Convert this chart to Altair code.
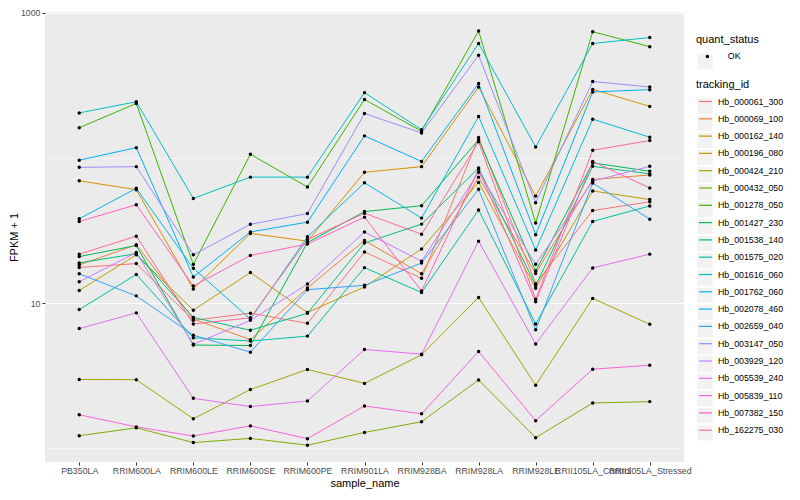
import altair as alt
import pandas as pd

samples = ["PB350LA", "RRIM600LA", "RRIM600LE", "RRIM600SE", "RRIM600PE", "RRIM901LA",
           "RRIM928BA", "RRIM928LA", "RRIM928LE", "RRII105LA_Control", "RRII105LA_Stressed"]

genes = ["Hb_000061_300", "Hb_000069_100", "Hb_000162_140", "Hb_000196_080", "Hb_000424_210",
         "Hb_000432_050", "Hb_001278_050", "Hb_001427_230", "Hb_001538_140", "Hb_001575_020",
         "Hb_001616_060", "Hb_001762_060", "Hb_002078_460", "Hb_002659_040", "Hb_003147_050",
         "Hb_003929_120", "Hb_005539_240", "Hb_005839_110", "Hb_007382_150", "Hb_162275_030"]

colors = ["#F8766D", "#EA8331", "#D89000", "#C09B00", "#A3A500", "#7CAE00", "#39B600", "#00BB4E",
          "#00BF7D", "#00C1A3", "#00BFC4", "#00BAE0", "#00B0F6", "#35A2FF", "#9590FF", "#C77CFF",
          "#E76BF3", "#FA62DB", "#FF62BC", "#FF6C91"]

Hb_000061_300 = [17.6, 18.7, 7.59, 8.51, 7.24, 22.5, 14.8, 138.4, 13.6, 43.4, 49.9]
Hb_000069_100 = [18.3, 25.2, 7.75, 5.59, 12.7, 27.0, 15.9, 73.8, 16.0, 71.1, 76.4]
Hb_000162_140 = [69.6, 60.5, 12.5, 30.2, 26.7, 79.7, 87.2, 308.8, 54.6, 297.3, 227.0]
Hb_000196_080 = [12.2, 21.5, 8.92, 16.23, 8.6, 12.9, 23.6, 67.9, 12.64, 59.3, 51.7]
Hb_000424_210 = [2.97, 2.96, 1.59, 2.53, 3.48, 2.79, 4.39, 10.93, 2.71, 10.76, 7.13]
Hb_000432_050 = [1.215, 1.377, 1.090, 1.165, 1.045, 1.280, 1.519, 2.946, 1.178, 2.044, 2.089]
Hb_001278_050 = [161.7, 237.8, 18.47, 106.1, 63.1, 253.2, 152.9, 751.4, 35.6, 743.3, 585.5]
Hb_001427_230 = [20.9, 24.9, 5.13, 5.09, 26.1, 42.7, 46.9, 133.5, 16.6, 92.5, 81.0]
Hb_001538_140 = [18.9, 21.9, 7.95, 6.49, 8.49, 25.9, 35.0, 85.3, 13.2, 87.6, 77.7]
Hb_001575_020 = [9.01, 15.73, 5.76, 5.47, 5.91, 17.54, 11.82, 43.85, 7.17, 36.53, 46.7]
Hb_001616_060 = [204.5, 244.2, 52.6, 73.8, 73.8, 282.4, 156.8, 616.4, 119.1, 616.4, 676.9]
Hb_001762_060 = [38.1, 61.8, 17.35, 7.75, 28.6, 67.5, 38.5, 193.2, 23.2, 185.3, 139.2]
Hb_002078_460 = [96.6, 117.8, 15.1, 30.9, 36.1, 142.1, 94.7, 326.5, 29.6, 285.5, 296.0]
Hb_002659_040 = [15.9, 11.2, 6.0, 4.58, 12.35, 13.24, 18.87, 60.85, 6.53, 67.17, 37.86]
Hb_003147_050 = [86.2, 87.2, 21.5, 34.9, 41.4, 202.6, 148.9, 511.0, 49.2, 337.0, 308.8]
Hb_003929_120 = [14.0, 22.3, 5.19, 7.59, 13.5, 30.9, 19.4, 79.7, 18.5, 69.3, 87.6]
Hb_005539_240 = [6.66, 8.55, 2.20, 1.93, 2.11, 4.78, 4.44, 26.7, 5.22, 17.46, 21.73]
Hb_005839_110 = [1.695, 1.399, 1.210, 1.421, 1.160, 1.951, 1.721, 4.632, 1.543, 3.497, 3.722]
Hb_007382_150 = [36.5, 47.6, 13.1, 21.3, 25.5, 39.1, 12.1, 83.6, 10.2, 94.7, 62.1]
Hb_162275_030 = [21.7, 28.9, 7.17, 7.91, 27.4, 41.6, 29.8, 129.4, 10.6, 113.0, 132.0]

series = [Hb_000061_300, Hb_000069_100, Hb_000162_140, Hb_000196_080, Hb_000424_210,
          Hb_000432_050, Hb_001278_050, Hb_001427_230, Hb_001538_140, Hb_001575_020,
          Hb_001616_060, Hb_001762_060, Hb_002078_460, Hb_002659_040, Hb_003147_050,
          Hb_003929_120, Hb_005539_240, Hb_005839_110, Hb_007382_150, Hb_162275_030]

status_levels = ["OK"]

rows = []
for g, vals in zip(genes, series):
    for s, v in zip(samples, vals):
        rows.append({"tracking_id": g, "tracking_key": g, "sample_name": s, "fpkm": v,
                     "quant_status": "OK", "quant_key": "OK"})
df = pd.DataFrame(rows)

FONT = "Liberation Sans"
major = "datum.value == 10 || datum.value == 1000"

x = alt.X("sample_name:N", sort=samples, title="sample_name",
          scale=alt.Scale(padding=0.6),
          axis=alt.Axis(labelAngle=0, labelOverlap=False, labelLimit=300, labelPadding=1.5,
                        titlePadding=2, gridWidth=1.07))
y = alt.Y("fpkm:Q", title="FPKM + 1",
          scale=alt.Scale(type="log", domain=[0.8007, 1016.0], nice=False),
          axis=alt.Axis(values=[1, 10, 100, 1000],
                        labelExpr="datum.value == 1000 ? '1000' : (datum.value == 10 ? '10' : '')",
                        gridWidth={"condition": {"test": major, "value": 1.07}, "value": 0.53},
                        tickOpacity={"condition": {"test": major, "value": 1}, "value": 0},
                        labelPadding=2, titlePadding=0.5))

# grey key boxes behind the legend entries (legend-only layers, no marks drawn)
key_boxes = alt.Chart(df).transform_filter("false").mark_square(
    size=234, color="#F2F2F2", filled=True, opacity=1
).encode(
    x=x, y=y,
    opacity=alt.Opacity("tracking_key:O",
                        scale=alt.Scale(type="point", domain=genes, range=[1, 1]),
                        legend=alt.Legend(orient="none", legendX=652, legendY=86, title="",
                                          labelExpr="''", labelOpacity=0, symbolType="square",
                                          symbolSize=234, symbolFillColor="#F2F2F2",
                                          symbolStrokeWidth=0, rowPadding=1.2,
                                          padding=0, zindex=0)),
)

ok_box = alt.Chart(df).transform_filter("false").mark_square(
    color="#F2F2F2", filled=True, opacity=1
).encode(
    x=x, y=y,
    size=alt.Size("quant_key:O",
                  scale=alt.Scale(type="point", domain=status_levels, range=[234, 234]),
                  legend=alt.Legend(orient="none", legendX=652, legendY=41.5, title="",
                                    labelExpr="''", labelOpacity=0, symbolType="square",
                                    symbolFillColor="#F2F2F2", symbolStrokeWidth=0,
                                    padding=0, zindex=0)),
)

lines = alt.Chart(df).mark_line(strokeWidth=1).encode(
    x=x, y=y,
    color=alt.Color("tracking_id:N", title="tracking_id",
                    scale=alt.Scale(domain=genes, range=colors),
                    legend=alt.Legend(orient="none", legendX=651, legendY=67,
                                      symbolType="stroke", symbolSize=169, symbolStrokeWidth=1.2,
                                      symbolOffset=2, labelOffset=5, rowPadding=4.3,
                                      titlePadding=4, padding=0, zindex=1)),
    detail="tracking_id:N",
)

points = alt.Chart(df).mark_point(filled=True, size=12, color="black", opacity=1).encode(
    x=x, y=y,
    shape=alt.Shape("quant_status:N", title="quant_status",
                    scale=alt.Scale(domain=status_levels, range=["circle"]),
                    legend=alt.Legend(orient="none", legendX=651, legendY=22,
                                      symbolSize=12, symbolFillColor="black", symbolStrokeColor="black",
                                      symbolOffset=7, labelOffset=16, titlePadding=7, padding=0,
                                      zindex=1)),
)

chart = alt.layer(key_boxes, ok_box, lines, points).properties(
    width=639, height=450,
    autosize=alt.AutoSizeParams(type="none"),
    padding={"left": 37, "top": 4, "right": 100, "bottom": 28},
    background="white",
).resolve_legend(
    opacity="independent", size="independent", color="independent", shape="independent"
).configure_view(
    fill="#EBEBEB", stroke=None
).configure_axis(
    domain=False, tickColor="#333333", tickSize=3, tickWidth=1,
    labelColor="#4D4D4D", labelFontSize=8.8, labelFont=FONT,
    titleFontSize=11, titleColor="black", titleFont=FONT, titleFontWeight="normal",
    gridColor="white", gridOpacity=1,
).configure_legend(
    titleFontSize=11, titleFont=FONT, titleFontWeight="normal", titleColor="black",
    labelFontSize=8.8, labelFont=FONT, labelColor="black",
)

chart.save("out.html", embed_options={"renderer": "svg", "actions": False})
